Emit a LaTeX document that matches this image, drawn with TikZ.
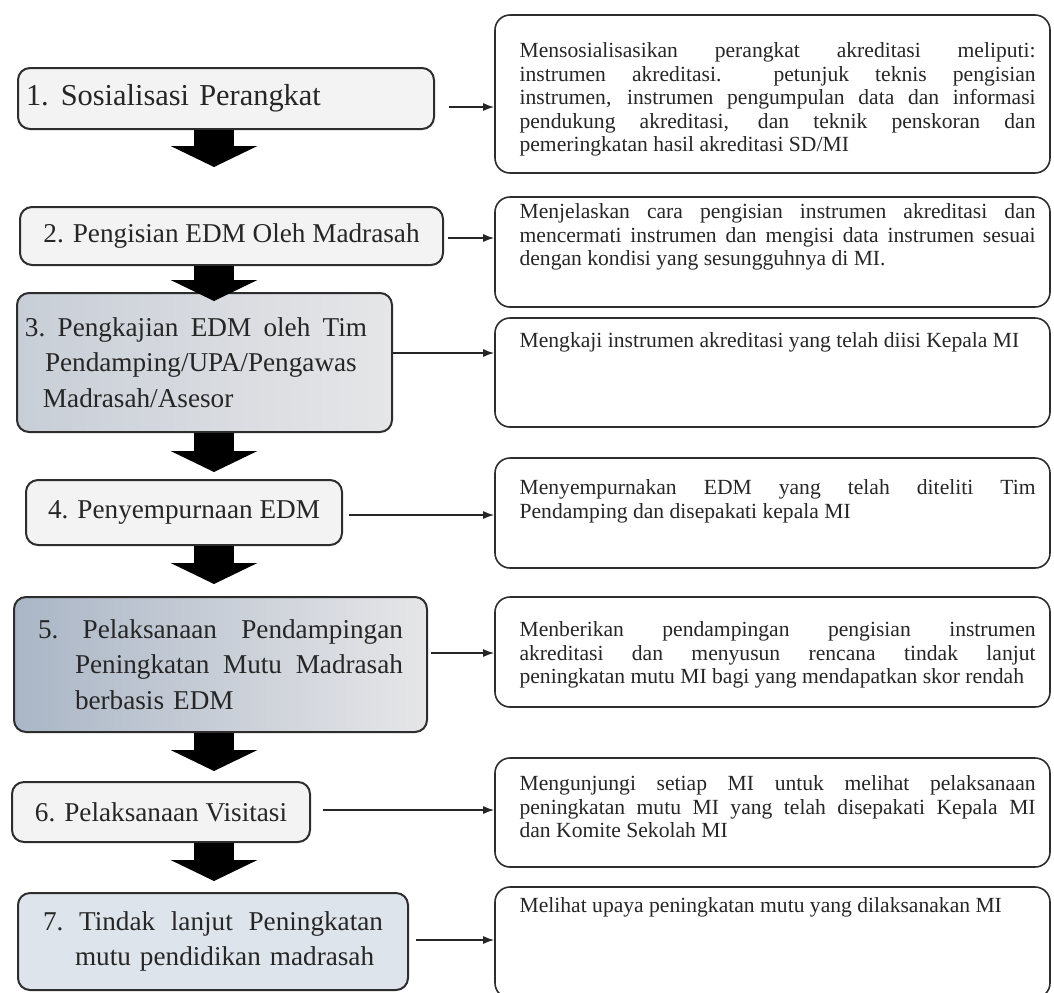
\documentclass[tikz,border=0pt]{standalone}
\usepackage{fontspec}
\setmainfont{Liberation Serif}
\usepackage{xcolor}
\usetikzlibrary{arrows.meta}
\definecolor{boxline}{RGB}{45,45,45}
\definecolor{boxfill}{RGB}{243,243,243}
\definecolor{shadeblue}{RGB}{170,182,198}
\definecolor{shadegray}{RGB}{230,230,232}
\definecolor{shadelight}{RGB}{222,228,236}
\tikzset{stage/.style={draw=boxline,line width=1pt,rounded corners=6pt,fill=boxfill,
   inner sep=0pt,text=black!85,font=\fontsize{13.6}{17.8}\selectfont},
 note/.style={draw=boxline,line width=0.8pt,rounded corners=7.5pt,fill=white,
   minimum width=277.5pt},
 notetext/.style={anchor=north west,inner sep=0pt,text width=258pt,align=justify,
   text=black!85,font=\fontsize{10.8}{11.8}\selectfont},
 bigarrow/.style={draw=black,line width=20pt,-{Triangle[width=43pt,length=10.5pt]}},
 flow/.style={draw=black!85,line width=0.75pt,-{Latex[length=5.5pt,width=4pt]}},
 }

\begin{document}
\begin{tikzpicture}[x=0.5pt,y=-0.5pt]
\useasboundingbox (0,0) rectangle (1054,992);

\node[stage,minimum width=208pt,minimum height=30.5pt,text width=200pt,align=left,
   font=\fontsize{15.2}{18}\selectfont] (b1) at (226,98.5)
   {1.\hspace{6pt}Sosialisasi Perangkat};
\node[stage,minimum width=211.5pt,minimum height=29pt] (b2) at (231.5,236)
   {2. Pengisian EDM Oleh Madrasah};
\node[stage,minimum width=187.5pt,minimum height=69.5pt,text width=179.5pt,align=left,
   left color=shadeblue!50!shadegray,right color=shadegray] (b3) at (204.5,362.5)
   {\makebox[171pt][l]{3.\hfill Pengkajian\hfill EDM\hfill oleh\hfill Tim}\\
    \hspace*{10pt}Pendamping/UPA/Pengawas\\\hspace*{9pt}Madrasah/Asesor};
\node[stage,minimum width=158pt,minimum height=32.5pt] (b4) at (184,512.5)
   {4. Penyempurnaan EDM};
\node[stage,minimum width=206.5pt,minimum height=67.5pt,text width=182.5pt,align=left,
   left color=shadeblue,right color=shadegray] (b5) at (220.5,664.5)
   {\makebox[182.5pt][l]{5.\hfill Pelaksanaan\hfill Pendampingan}\\
    \hspace*{18.5pt}\makebox[164pt][l]{Peningkatan\hfill Mutu\hfill Madrasah}\\
    \hspace*{18.5pt}berbasis EDM};
\node[stage,minimum width=149pt,minimum height=30pt] (b6) at (161,812)
   {6. Pelaksanaan Visitasi};
\node[stage,minimum width=195pt,minimum height=48.5pt,text width=170pt,align=left,
   fill=shadelight] (b7) at (213,941.5)
   {\makebox[170pt][l]{7.\hfill Tindak\hfill lanjut\hfill Peningkatan}\\
    \hspace*{16pt}mutu pendidikan madrasah};

\node[note,minimum height=79pt] (r1) at (772.5,94) {};
\node[note,minimum height=55pt] (r2) at (772.5,252) {};
\node[note,minimum height=54.5pt] (r3) at (772.5,372.5) {};
\node[note,minimum height=55pt] (r4) at (772.5,513) {};
\node[note,minimum height=55pt] (r5) at (772.5,652) {};
\node[note,minimum height=54.5pt] (r6) at (772.5,812.5) {};
\node[note,minimum height=55.5pt] (r7) at (772.5,942.5) {};

\node[notetext] (t1) at ([xshift=12.5pt,yshift=-14pt]r1.north west)
   {Mensosialisasikan perangkat akreditasi meliputi:\linebreak
    instrumen akreditasi.\ \ petunjuk teknis pengisian\linebreak
    instrumen, instrumen pengumpulan data dan informasi\linebreak
    pendukung akreditasi, dan teknik penskoran dan\linebreak
    pemeringkatan hasil akreditasi SD/MI};
\node[notetext] (t2) at ([xshift=12.5pt,yshift=-3.5pt]r2.north west)
   {Menjelaskan cara pengisian instrumen akreditasi dan\linebreak
    mencermati instrumen dan mengisi data instrumen sesuai\linebreak
    dengan kondisi yang sesungguhnya di MI.};
\node[notetext] (t3) at ([xshift=12.5pt,yshift=-7.5pt]r3.north west)
   {Mengkaji instrumen akreditasi yang telah diisi Kepala MI};
\node[notetext] (t4) at ([xshift=12.5pt,yshift=-11pt]r4.north west)
   {Menyempurnakan EDM yang telah diteliti Tim\linebreak
    Pendamping dan disepakati kepala MI};
\node[notetext] (t5) at ([xshift=12.5pt,yshift=-12.5pt]r5.north west)
   {Menberikan pendampingan pengisian instrumen\linebreak
    akreditasi dan menyusun rencana tindak lanjut\linebreak
    peningkatan mutu MI bagi yang mendapatkan skor rendah};
\node[notetext] (t6) at ([xshift=12.5pt,yshift=-9pt]r6.north west)
   {Mengunjungi setiap MI untuk melihat pelaksanaan\linebreak
    peningkatan mutu MI yang telah disepakati Kepala MI\linebreak
    dan Komite Sekolah MI};
\node[notetext] (t7) at ([xshift=12.5pt,yshift=-5.5pt]r7.north west)
   {Melihat upaya peningkatan mutu yang dilaksanakan MI};

\coordinate (ax) at (214,0);
\draw[bigarrow,shorten >=19.5pt] (b1.south -| ax) -- (b2.north -| ax);
\draw[bigarrow,shorten >=-4.5pt] (b2.south -| ax) -- (b3.north -| ax);
\draw[bigarrow,shorten >=3.5pt] (b3.south -| ax) -- (b4.north -| ax);
\draw[bigarrow,shorten >=6pt] (b4.south -| ax) -- (b5.north -| ax);
\draw[bigarrow,shorten >=5pt] (b5.south -| ax) -- (b6.north -| ax);
\draw[bigarrow,shorten >=5.5pt] (b6.south -| ax) -- (b7.north -| ax);

\draw[flow] ([xshift=7pt,yshift=-4.25pt]b1.east) coordinate (s1) -- (s1 -| r1.west);
\draw[flow] ([xshift=2pt,yshift=-1pt]b2.east) coordinate (s2) -- (s2 -| r2.west);
\draw[flow] ([yshift=4.75pt]b3.east) coordinate (s3) -- (s3 -| r3.west);
\draw[flow] ([xshift=3pt,yshift=-1.25pt]b4.east) coordinate (s4) -- (s4 -| r4.west);
\draw[flow] ([xshift=1.5pt,yshift=5.75pt]b5.east) coordinate (s5) -- (s5 -| r5.west);
\draw[flow] ([xshift=6pt,yshift=1pt]b6.east) coordinate (s6) -- (s6 -| r6.west);
\draw[flow] ([xshift=3.5pt,yshift=0.75pt]b7.east) coordinate (s7) -- (s7 -| r7.west);
\end{tikzpicture}
\end{document}
